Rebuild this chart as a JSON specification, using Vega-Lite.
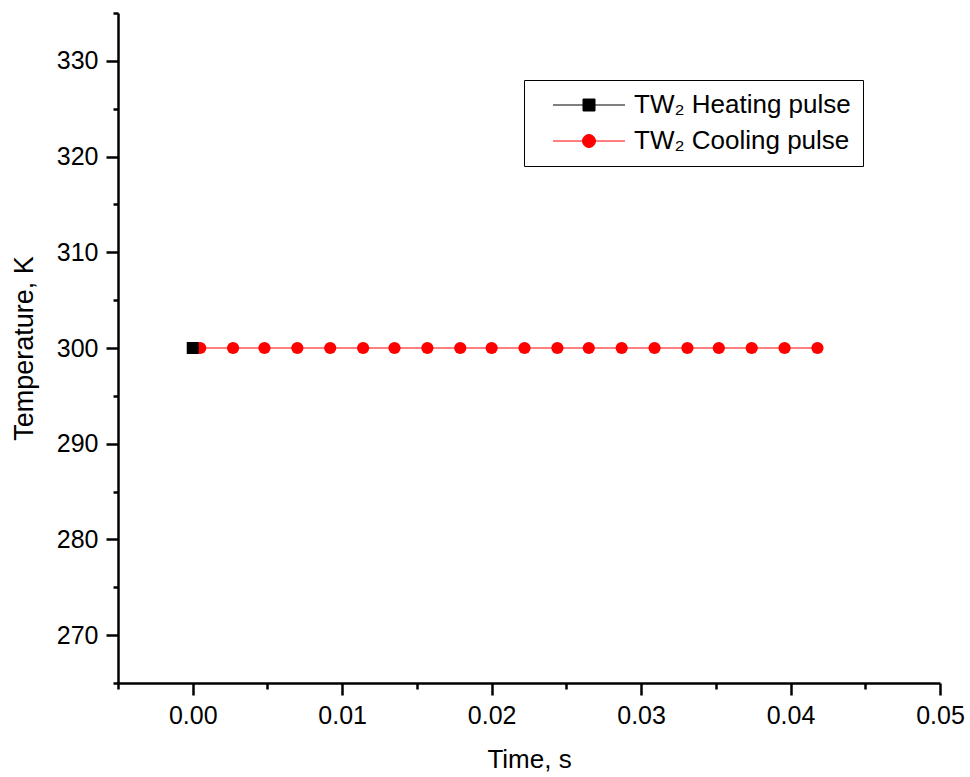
{
  "$schema": "https://vega.github.io/schema/vega-lite/v6.json",
  "autosize": {"type": "none"},
  "padding": {"left": 118, "top": 13, "right": 30, "bottom": 94},
  "width": 822,
  "height": 670,
  "background": "white",
  "config": {
    "font": "Liberation Sans",
    "view": {"stroke": null},
    "axis": {"grid": false, "domainColor": "black", "tickColor": "black", "labelColor": "black", "titleColor": "black", "labelFont": "Liberation Sans", "titleFont": "Liberation Sans", "titleFontWeight": "normal", "labelFontSize": 25, "titleFontSize": 26}
  },
  "data": {"values": [
    {"time": 0.0, "temp": 300, "series": "TW₂ Heating pulse"},
    {"time": 0.0005, "temp": 300, "series": "TW₂ Cooling pulse"},
    {"time": 0.0027, "temp": 300, "series": "TW₂ Cooling pulse"},
    {"time": 0.0048, "temp": 300, "series": "TW₂ Cooling pulse"},
    {"time": 0.0070, "temp": 300, "series": "TW₂ Cooling pulse"},
    {"time": 0.0092, "temp": 300, "series": "TW₂ Cooling pulse"},
    {"time": 0.0114, "temp": 300, "series": "TW₂ Cooling pulse"},
    {"time": 0.0135, "temp": 300, "series": "TW₂ Cooling pulse"},
    {"time": 0.0157, "temp": 300, "series": "TW₂ Cooling pulse"},
    {"time": 0.0179, "temp": 300, "series": "TW₂ Cooling pulse"},
    {"time": 0.0200, "temp": 300, "series": "TW₂ Cooling pulse"},
    {"time": 0.0222, "temp": 300, "series": "TW₂ Cooling pulse"},
    {"time": 0.0244, "temp": 300, "series": "TW₂ Cooling pulse"},
    {"time": 0.0265, "temp": 300, "series": "TW₂ Cooling pulse"},
    {"time": 0.0287, "temp": 300, "series": "TW₂ Cooling pulse"},
    {"time": 0.0309, "temp": 300, "series": "TW₂ Cooling pulse"},
    {"time": 0.0331, "temp": 300, "series": "TW₂ Cooling pulse"},
    {"time": 0.0352, "temp": 300, "series": "TW₂ Cooling pulse"},
    {"time": 0.0374, "temp": 300, "series": "TW₂ Cooling pulse"},
    {"time": 0.0396, "temp": 300, "series": "TW₂ Cooling pulse"},
    {"time": 0.0418, "temp": 300, "series": "TW₂ Cooling pulse"}
  ]},
  "resolve": {"axis": {"x": "independent", "y": "independent"}},
  "layer": [
    {
      "transform": [{"filter": "datum.series == 'TW₂ Cooling pulse'"}],
      "mark": {"type": "line", "color": "#ff0000", "strokeWidth": 1},
      "encoding": {
        "x": {"field": "time", "type": "quantitative", "scale": {"domain": [-0.005, 0.05], "nice": false, "zero": false},
          "axis": {"orient": "bottom", "title": "Time, s", "values": [0, 0.01, 0.02, 0.03, 0.04, 0.05], "format": ".2f", "tickSize": 12, "tickWidth": 2.5, "domainWidth": 2.5, "labelPadding": 8, "titlePadding": 18, "labelFlush": false}},
        "y": {"field": "temp", "type": "quantitative", "scale": {"domain": [265, 335], "nice": false, "zero": false},
          "axis": {"orient": "left", "title": "Temperature, K", "values": [270, 280, 290, 300, 310, 320, 330], "format": "d", "tickSize": 12, "tickWidth": 2.5, "domainWidth": 2.5, "labelPadding": 8, "titlePadding": 18, "titleFontSize": 27}}
      }
    },
    {
      "transform": [{"filter": "datum.series == 'TW₂ Cooling pulse'"}],
      "mark": {"type": "point", "shape": "circle", "filled": true, "opacity": 1, "color": "#ff0000", "size": 150},
      "encoding": {
        "x": {"field": "time", "type": "quantitative", "axis": {"orient": "bottom", "title": null, "values": [-0.005, 0.005, 0.015, 0.025, 0.035, 0.045], "labels": false, "tickSize": 6, "tickWidth": 2.5, "domain": false}},
        "y": {"field": "temp", "type": "quantitative", "axis": {"orient": "left", "title": null, "values": [265, 275, 285, 295, 305, 315, 325, 335], "labels": false, "tickSize": 5, "tickWidth": 2.5, "domain": false}}
      }
    },
    {
      "transform": [{"filter": "datum.series == 'TW₂ Heating pulse'"}],
      "mark": {"type": "point", "shape": "square", "filled": true, "opacity": 1, "color": "#000000", "size": 144},
      "encoding": {
        "x": {"field": "time", "type": "quantitative", "axis": null},
        "y": {"field": "temp", "type": "quantitative", "axis": null}
      }
    },
    {
      "mark": {"type": "point", "filled": true, "size": 0, "opacity": 1},
      "encoding": {
        "x": {"field": "time", "type": "quantitative", "axis": null},
        "y": {"field": "temp", "type": "quantitative", "axis": null},
        "fill": {"field": "series", "type": "nominal", "scale": {"domain": ["TW₂ Heating pulse", "TW₂ Cooling pulse"], "range": ["#000000", "#ff0000"]}, "legend": {"title": null, "orient": "none", "legendX": 406, "legendY": 67, "strokeColor": "black", "padding": 12, "symbolOpacity": 1, "symbolSize": 400, "symbolStrokeWidth": 1, "symbolOffset": 40, "labelOffset": 32, "labelFontSize": 26, "labelFont": "Liberation Sans", "labelColor": "black", "labelLimit": 0, "rowPadding": 10, "fillColor": "white"}},
        "stroke": {"field": "series", "type": "nominal", "scale": {"domain": ["TW₂ Heating pulse", "TW₂ Cooling pulse"], "range": ["#000000", "#ff0000"]}},
        "shape": {"field": "series", "type": "nominal", "scale": {"domain": ["TW₂ Heating pulse", "TW₂ Cooling pulse"], "range": ["M-3.6,0H3.6M-0.6,-0.6H0.6V0.6H-0.6Z", "M-3.6,0H3.6M-0.65,0A0.65,0.65 0 1,0 0.65,0A0.65,0.65 0 1,0 -0.65,0Z"]}}
      }
    }
  ]
}
